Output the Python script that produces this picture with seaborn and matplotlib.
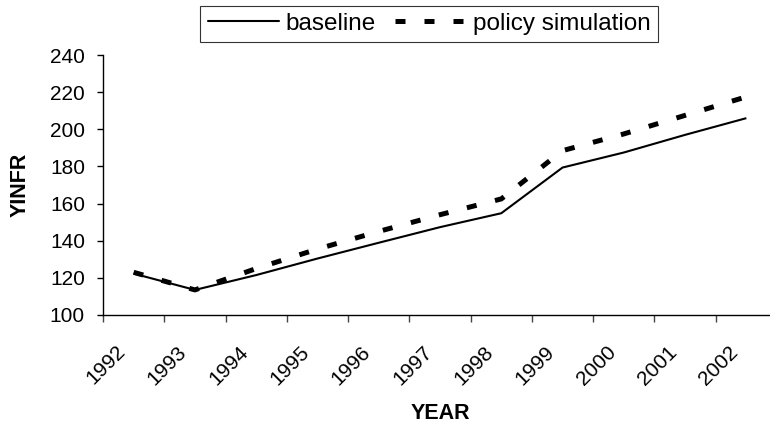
import matplotlib
matplotlib.use("Agg")
import matplotlib.pyplot as plt
from matplotlib.ticker import FixedLocator
from matplotlib.lines import Line2D
import seaborn as sns
import pandas as pd

years = ["1992", "1993", "1994", "1995", "1996", "1997", "1998", "1999", "2000", "2001", "2002"]
baseline = [122.3, 113.5, 121.5, 130.4, 138.9, 147.3, 154.8, 179.4, 187.5, 197.0, 206.0]
policy = [123.0, 113.5, 125.0, 135.5, 145.0, 154.0, 162.5, 188.5, 197.5, 207.5, 217.5]
series_names = ["baseline", "policy simulation"]
y_ticks = [100, 120, 140, 160, 180, 200, 220, 240]

sns.set_style("white")
plt.rcParams["font.family"] = ["Liberation Sans", "DejaVu Sans"]
plt.rcParams["text.color"] = "black"
plt.rcParams["axes.labelcolor"] = "black"
plt.rcParams["xtick.color"] = "black"
plt.rcParams["ytick.color"] = "black"

df = pd.DataFrame({
    "pos": list(range(len(years))) * 2,
    "value": baseline + policy,
    "series": [series_names[0]] * len(years) + [series_names[1]] * len(years),
})

fig = plt.figure(figsize=(7.7, 4.26), dpi=100)
ax = fig.add_axes([103 / 770, (426 - 315) / 426, (777 - 103) / 770, (315 - 55) / 426])

sns.lineplot(data=df, x="pos", y="value", hue="series", style="series",
             palette={series_names[0]: "black", series_names[1]: "black"},
             dashes={series_names[0]: "", series_names[1]: (2.0, 3.8)},
             size="series", sizes={series_names[0]: 1.5, series_names[1]: 3.6},
             legend=False, ax=ax)
for ln in ax.get_lines():
    ln.set_dash_capstyle("butt")
    ln.set_solid_capstyle("butt")

ax.set_xlim(-0.5, len(years) - 0.5)
ax.set_ylim(100, 240)
ax.set_yticks(y_ticks)
ax.set_yticklabels([str(v) for v in y_ticks], fontsize=15)

# rotated labels sit slightly left of the category centre, as in the reference
label_offset = -0.29
ax.set_xticks([i + label_offset for i in range(len(years))])
ax.set_xticklabels(years, rotation=45, ha="right", rotation_mode="anchor", fontsize=15)
ax.xaxis.set_minor_locator(FixedLocator([i - 0.5 for i in range(len(years) + 1)]))
ax.tick_params(axis="x", which="major", bottom=True, length=0, pad=19.5)
ax.tick_params(axis="x", which="minor", bottom=True, length=5, width=1, color="#444444", direction="out")
ax.tick_params(axis="y", which="major", left=True, length=4.5, width=1, color="black", direction="out", pad=8.5)

for s in ["top", "right"]:
    ax.spines[s].set_visible(False)
for s in ["left", "bottom"]:
    ax.spines[s].set_color("black")
    ax.spines[s].set_linewidth(1)

ax.set_xlabel("YEAR", fontsize=15.5, fontweight="bold", va="top")
ax.xaxis.set_label_coords((440.5 - 103) / 674, (315 - 403) / 260)
ax.set_ylabel("YINFR", fontsize=15.5, fontweight="bold", va="bottom")
ax.yaxis.set_label_coords((31 - 103) / 674, 0.5)

handles = [
    Line2D([], [], color="black", lw=1.5),
    Line2D([], [], color="black", lw=3.6, dashes=(2.0, 3.8), dash_capstyle="butt"),
]
leg = fig.legend(handles, series_names, loc="center", bbox_to_anchor=(429 / 770, 1 - 24 / 426),
                 ncol=2, frameon=True, fancybox=False, fontsize=17.5, handlelength=2.95,
                 handletextpad=0.25, columnspacing=0.8, borderpad=0.3, borderaxespad=0)
leg.get_frame().set_edgecolor("black")
leg.get_frame().set_linewidth(0.8)

fig.savefig("out.png", dpi=100)
